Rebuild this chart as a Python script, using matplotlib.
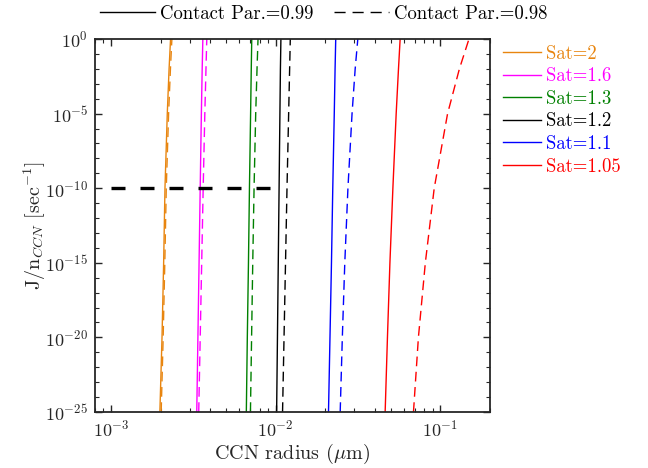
import matplotlib
matplotlib.use("Agg")
import matplotlib.pyplot as plt
from matplotlib.lines import Line2D
from matplotlib.ticker import LogLocator, NullFormatter

plt.rcParams["mathtext.fontset"] = "cm"
plt.rcParams["font.family"] = ["cmr10", "DejaVu Serif"]
plt.rcParams["axes.formatter.use_mathtext"] = True

# Nucleation rate levels (sec^-1) at which the CCN radius is tabulated
J_levels = [1e-25, 1e-20, 1e-15, 1e-10, 1e-5, 1e-2, 1e0]

sat_labels = ["Sat=2", "Sat=1.6", "Sat=1.3", "Sat=1.2", "Sat=1.1", "Sat=1.05"]
sat_colors = ["#E8850F", "#FF00FF", "#008000", "#000000", "#0000FF", "#FF0000"]

# CCN radius (um) for contact parameter 0.99
r_cp099 = [
    [1.982e-3, 2.042e-3, 2.089e-3, 2.128e-3, 2.198e-3, 2.254e-3, 2.301e-3],
    [3.319e-3, 3.373e-3, 3.428e-3, 3.483e-3, 3.540e-3, 3.581e-3, 3.614e-3],
    [6.638e-3, 6.730e-3, 6.839e-3, 6.934e-3, 7.047e-3, 7.112e-3, 7.161e-3],
    [1.0139e-2, 1.0257e-2, 1.0375e-2, 1.0495e-2, 1.0617e-2, 1.0691e-2, 1.0765e-2],
    [2.094e-2, 2.138e-2, 2.183e-2, 2.223e-2, 2.270e-2, 2.296e-2, 2.317e-2],
    [4.624e-2, 4.775e-2, 4.943e-2, 5.152e-2, 5.395e-2, 5.572e-2, 5.702e-2],
]

# CCN radius (um) for contact parameter 0.98
r_cp098 = [
    [2.018e-3, 2.075e-3, 2.123e-3, 2.167e-3, 2.239e-3, 2.297e-3, 2.344e-3],
    [3.412e-3, 3.483e-3, 3.556e-3, 3.631e-3, 3.715e-3, 3.776e-3, 3.819e-3],
    [7.031e-3, 7.145e-3, 7.261e-3, 7.396e-3, 7.568e-3, 7.709e-3, 7.817e-3],
    [1.1015e-2, 1.1246e-2, 1.1482e-2, 1.1722e-2, 1.1995e-2, 1.2162e-2, 1.2274e-2],
    [2.466e-2, 2.541e-2, 2.630e-2, 2.748e-2, 2.911e-2, 3.041e-2, 3.155e-2],
    [6.871e-2, 7.362e-2, 8.110e-2, 9.183e-2, 0.1107, 0.1306, 0.1493],
]

# Threshold nucleation rate marker
thresh_x = [1e-3, 1e-2]
thresh_J = [1e-10, 1e-10]

fig = plt.figure(figsize=(6.48, 4.68), dpi=100)
ax = fig.add_axes([0.1466, 0.1197, 0.6094, 0.7970])

lw = 1.0
for r_s, r_d, c in zip(r_cp099, r_cp098, sat_colors):
    ax.plot(r_s, J_levels, color=c, lw=lw, solid_capstyle="butt")
    ax.plot(r_d, J_levels, color=c, lw=lw, dashes=(7, 4))

ax.plot(thresh_x, thresh_J, color="black", lw=2.4, dashes=(4.2, 4.5),
        dash_capstyle="butt")

ax.set_xscale("log")
ax.set_yscale("log")
ax.set_xlim(8e-4, 0.2)
ax.set_ylim(1e-25, 1e0)

ax.set_yticks([1e-25, 1e-20, 1e-15, 1e-10, 1e-5, 1e0])
ax.yaxis.set_minor_locator(LogLocator(base=10, subs=(1.0,), numticks=40))
ax.yaxis.set_minor_formatter(NullFormatter())
ax.xaxis.set_minor_formatter(NullFormatter())

ax.tick_params(which="both", direction="in", top=True, right=True,
               colors="#262626", labelcolor="#262626", labelsize=13)
ax.tick_params(which="major", length=5, width=1.0, pad=5)
ax.tick_params(which="minor", length=2.8, width=0.8)
for s in ax.spines.values():
    s.set_linewidth(1.3)
    s.set_color("#262626")

ax.set_xlabel(r"CCN radius ($\mu$m)", fontsize=14.5, color="#262626", labelpad=2)
ax.set_ylabel(r"J/n$_{CCN}$ [sec$^{-1}$]", fontsize=14.5, color="#262626")
ax.yaxis.set_label_coords(-0.12, 0.5)

# Saturation legend on the right
sat_handles = [Line2D([], [], color=c, lw=lw) for c in sat_colors]
leg = ax.legend(sat_handles, sat_labels,
                loc="upper left", bbox_to_anchor=(1.0, 1.02), frameon=False,
                prop={"family": "cmr10", "size": 13.5}, handlelength=2.0,
                handletextpad=0.3, labelspacing=0.25, borderaxespad=0.3)
for txt, c in zip(leg.get_texts(), sat_colors):
    txt.set_color(c)

# Contact parameter legend above the axes
cp_handles = [Line2D([], [], color="black", lw=lw),
              Line2D([], [], color="black", lw=lw, dashes=(8, 5))]
leg2 = fig.legend(cp_handles, ["Contact Par.=0.99", "Contact Par.=0.98"],
                  loc="center", bbox_to_anchor=(0.5, 0.97), ncol=2, frameon=False,
                  prop={"family": "cmr10", "size": 13.5}, handlelength=2.9,
                  handletextpad=0.3, columnspacing=1.1)

fig.savefig("out.png", dpi=100)
